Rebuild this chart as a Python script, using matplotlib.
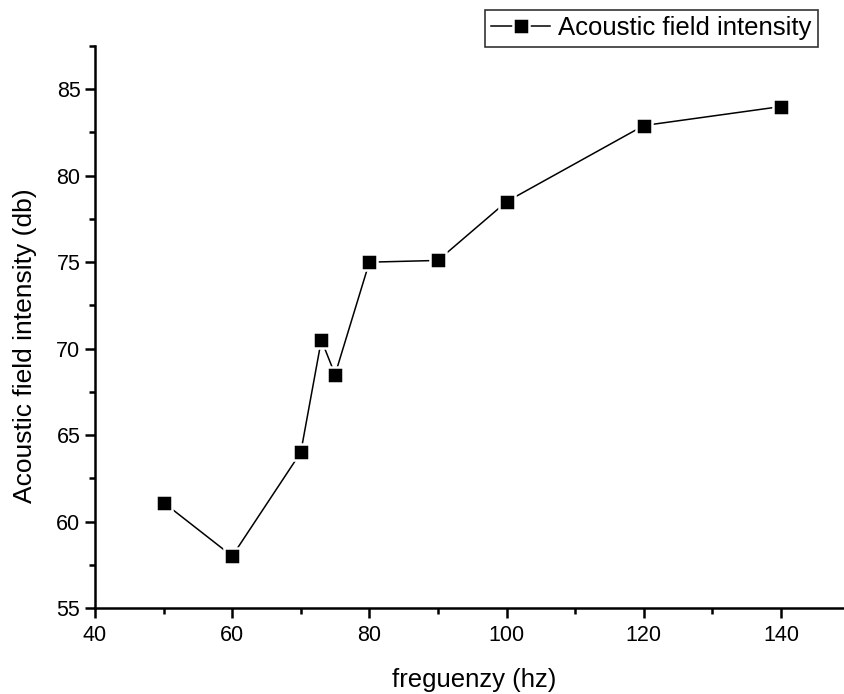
import matplotlib.pyplot as plt
from matplotlib.ticker import MultipleLocator

plt.rcParams["font.family"] = ["Liberation Sans", "DejaVu Sans"]

# frequency sweep (hz) and measured acoustic field intensity (db)
freq = [50, 60, 70, 73, 75, 80, 90, 100, 120, 140]
intensity = [61.1, 58.0, 64.0, 70.5, 68.5, 75.0, 75.1, 78.5, 82.9, 84.0]

fig = plt.figure(figsize=(8.45, 6.94), dpi=100)
ax = fig.add_axes([0.1124, 0.1239, 0.893, 0.8098])

ax.plot(freq, intensity, color="black", lw=1.1, marker="s", ms=11,
        mfc="black", mec="white", mew=1.8, label="Acoustic field intensity")

ax.set_xlim(40, 150)
ax.set_ylim(55, 87.5)
ax.xaxis.set_major_locator(MultipleLocator(20))
ax.xaxis.set_minor_locator(MultipleLocator(10))
ax.yaxis.set_major_locator(MultipleLocator(5))
ax.yaxis.set_minor_locator(MultipleLocator(2.5))

for side in ("top", "right"):
    ax.spines[side].set_visible(False)
for side in ("left", "bottom"):
    ax.spines[side].set_linewidth(1.8)
ax.tick_params(which="major", direction="out", length=7.5, width=1.8, labelsize=15.5)
ax.tick_params(axis="x", which="major", pad=5)
ax.tick_params(axis="y", which="major", pad=3)
ax.tick_params(which="minor", direction="out", length=4.5, width=1.8)

ax.set_xlabel("freguenzy (hz)", fontsize=18.5)
ax.set_ylabel("Acoustic field intensity (db)", fontsize=19)
ax.xaxis.set_label_coords(0.503, -0.107)
ax.yaxis.set_label_coords(-0.077, 0.467)

leg = ax.legend(loc="upper right", bbox_to_anchor=(0.958, 1.064), borderaxespad=0,
                fontsize=18.5, frameon=True, fancybox=False, edgecolor="black",
                handlelength=2.3, borderpad=0.25, handletextpad=0.3)
leg.get_frame().set_linewidth(1.2)

fig.savefig("out.png", dpi=100)
